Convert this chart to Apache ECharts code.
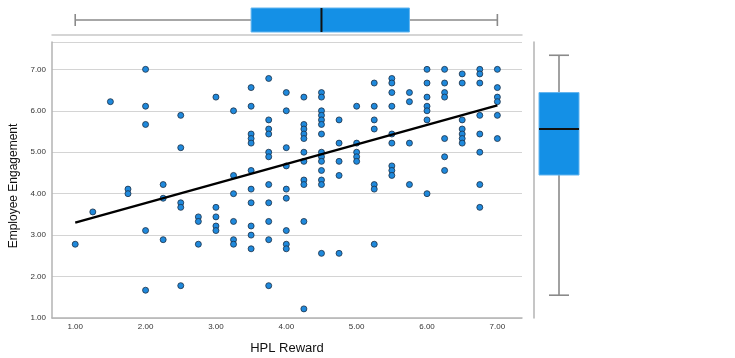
<!DOCTYPE html>
<html>
<head>
<meta charset="utf-8">
<script src="https://cdn.jsdelivr.net/npm/echarts@6/dist/echarts.min.js"></script>
<style>
  html, body { margin: 0; padding: 0; background: #ffffff; }
  #chart { width: 735px; height: 358px; }
</style>
</head>
<body>
<div id="chart"></div>
<script>
// Respondents: [HPL Reward, Employee Engagement]
const respondents = [
  [1.00, 2.78],
  [1.25, 3.56],
  [1.50, 6.22],
  [1.75, 4.11], [1.75, 4.00],
  [2.00, 7.00], [2.00, 6.11], [2.00, 5.67], [2.00, 3.11], [2.00, 1.67],
  [2.25, 4.22], [2.25, 3.89], [2.25, 2.89],
  [2.50, 5.89], [2.50, 5.11], [2.50, 3.78], [2.50, 3.67], [2.50, 1.78],
  [2.75, 3.44], [2.75, 3.33], [2.75, 2.78],
  [3.00, 6.33], [3.00, 3.67], [3.00, 3.44], [3.00, 3.22], [3.00, 3.11],
  [3.25, 6.00], [3.25, 4.44], [3.25, 4.00], [3.25, 3.33], [3.25, 2.89], [3.25, 2.78],
  [3.50, 6.56], [3.50, 6.11], [3.50, 5.44], [3.50, 5.33], [3.50, 5.22], [3.50, 4.56],
  [3.50, 4.11], [3.50, 3.78], [3.50, 3.22], [3.50, 3.00], [3.50, 2.67],
  [3.75, 6.78], [3.75, 5.78], [3.75, 5.56], [3.75, 5.44], [3.75, 5.00], [3.75, 4.89],
  [3.75, 4.22], [3.75, 3.78], [3.75, 3.33], [3.75, 2.89], [3.75, 1.78],
  [4.00, 6.44], [4.00, 6.00], [4.00, 5.11], [4.00, 4.67], [4.00, 4.11], [4.00, 3.89],
  [4.00, 3.11], [4.00, 2.78], [4.00, 2.67],
  [4.25, 6.33], [4.25, 5.67], [4.25, 5.56], [4.25, 5.44], [4.25, 5.33], [4.25, 5.00],
  [4.25, 4.78], [4.25, 4.33], [4.25, 4.22], [4.25, 3.33], [4.25, 1.22],
  [4.50, 6.44], [4.50, 6.33], [4.50, 6.00], [4.50, 5.89], [4.50, 5.78], [4.50, 5.67],
  [4.50, 5.44], [4.50, 5.00], [4.50, 4.89], [4.50, 4.78], [4.50, 4.56], [4.50, 4.33],
  [4.50, 4.22], [4.50, 2.56],
  [4.75, 5.78], [4.75, 5.22], [4.75, 4.78], [4.75, 4.44], [4.75, 2.56],
  [5.00, 6.11], [5.00, 5.22], [5.00, 5.00], [5.00, 4.89], [5.00, 4.78],
  [5.25, 6.67], [5.25, 6.11], [5.25, 5.78], [5.25, 5.56], [5.25, 4.22], [5.25, 4.11], [5.25, 2.78],
  [5.50, 6.78], [5.50, 6.67], [5.50, 6.44], [5.50, 6.11], [5.50, 5.44], [5.50, 5.22],
  [5.50, 4.67], [5.50, 4.56], [5.50, 4.44],
  [5.75, 6.44], [5.75, 6.22], [5.75, 5.22], [5.75, 4.22],
  [6.00, 7.00], [6.00, 6.67], [6.00, 6.33], [6.00, 6.11], [6.00, 6.00], [6.00, 5.78], [6.00, 4.00],
  [6.25, 7.00], [6.25, 6.67], [6.25, 6.44], [6.25, 6.33], [6.25, 5.33], [6.25, 4.89], [6.25, 4.56],
  [6.50, 6.89], [6.50, 6.67], [6.50, 5.78], [6.50, 5.56], [6.50, 5.44], [6.50, 5.33], [6.50, 5.22],
  [6.75, 7.00], [6.75, 6.89], [6.75, 6.67], [6.75, 5.89], [6.75, 5.44], [6.75, 5.00],
  [6.75, 4.22], [6.75, 3.67],
  [7.00, 7.00], [7.00, 6.56], [7.00, 6.33], [7.00, 6.22], [7.00, 5.89], [7.00, 5.33]
];

// Linear fit of engagement on reward, at the ends of the observed reward range
const fitLine = [[1.00, 3.30], [7.00, 6.13]];

// Five-number summaries: [min whisker, Q1, median, Q3, max whisker]
const rewardSummary = [1.00, 3.50, 4.50, 5.75, 7.00];
const engagementSummary = [1.55, 4.45, 5.56, 6.44, 7.34];

// Tick values shown on both axes
const tickValues = [1, 2, 3, 4, 5, 6, 7];

const FONT = '"Liberation Sans", Arial, sans-serif';
const BOX_FILL = '#1490e6';
const BOX_EDGE = '#63b5ef';
const WHISKER = '#8a8a8a';
const AXIS_GREY = '#b3b3b3';

// Draws a box-and-whisker glyph through the axis scales.
function boxGlyph(horizontal, boxPx, capPx) {
  return function (params, api) {
    const v = [api.value(0), api.value(1), api.value(2), api.value(3), api.value(4)];
    const pt = horizontal ? (val) => api.coord([val, 0.5]) : (val) => api.coord([0.5, val]);
    const p = v.map(pt);
    const hb = boxPx / 2, hc = capPx / 2;
    const seg = (a, b, style) => ({
      type: 'line',
      shape: { x1: a[0], y1: a[1], x2: b[0], y2: b[1] },
      style: style
    });
    const wStyle = { stroke: WHISKER, lineWidth: 1.6 };
    const cap = (c) => horizontal
      ? seg([c[0], c[1] - hc], [c[0], c[1] + hc], wStyle)
      : seg([c[0] - hc, c[1]], [c[0] + hc, c[1]], wStyle);
    const rect = horizontal
      ? { x: p[1][0], y: p[1][1] - hb, width: p[3][0] - p[1][0], height: boxPx }
      : { x: p[3][0] - hb, y: p[3][1], width: boxPx, height: p[1][1] - p[3][1] };
    const medStyle = { stroke: '#111111', lineWidth: 2 };
    const median = horizontal
      ? seg([p[2][0], p[2][1] - hb], [p[2][0], p[2][1] + hb], medStyle)
      : seg([p[2][0] - hb, p[2][1]], [p[2][0] + hb, p[2][1]], medStyle);
    return {
      type: 'group',
      children: [
        seg(p[0], p[1], wStyle),
        seg(p[3], p[4], wStyle),
        cap(p[0]),
        cap(p[4]),
        { type: 'rect', shape: rect, style: { fill: BOX_FILL, stroke: BOX_EDGE, lineWidth: 1 } },
        median
      ]
    };
  };
}

const xRange = { min: 0.67, max: 7.35 };
const yRange = { min: 1, max: 7.66 };

const chart = echarts.init(document.getElementById('chart'), null, { renderer: 'canvas' });

chart.setOption({
  animation: false,
  backgroundColor: '#ffffff',
  textStyle: { fontFamily: FONT },
  grid: [
    { left: 52, right: 213, top: 42, bottom: 40, outerBoundsMode: 'none' },   // scatter
    { left: 52, right: 213, top: 5, height: 30, outerBoundsMode: 'none' },    // reward box plot
    { left: 534, width: 50, top: 42, bottom: 40, outerBoundsMode: 'none' }    // engagement box plot
  ],
  xAxis: [
    {
      gridIndex: 0, type: 'value', min: xRange.min, max: xRange.max,
      name: 'HPL Reward', nameLocation: 'middle', nameGap: 24,
      nameTextStyle: { fontSize: 13, color: '#111111', fontFamily: FONT },
      axisLine: { show: true, lineStyle: { color: AXIS_GREY, width: 1.5 } },
      axisTick: { show: false },
      splitLine: { show: false },
      axisLabel: {
        customValues: tickValues, fontSize: 8, color: '#333333', margin: 5,
        formatter: (v) => v.toFixed(2)
      }
    },
    {
      gridIndex: 1, type: 'value', min: xRange.min, max: xRange.max,
      axisLine: { show: true, lineStyle: { color: '#c8c8c8', width: 1.5 } },
      axisTick: { show: false }, axisLabel: { show: false }, splitLine: { show: false }
    },
    {
      gridIndex: 2, type: 'value', min: 0, max: 1, show: false
    }
  ],
  yAxis: [
    {
      gridIndex: 0, type: 'value', min: yRange.min, max: yRange.max, interval: 1,
      name: 'Employee Engagement', nameLocation: 'middle', nameGap: 29,
      nameTextStyle: { fontSize: 12, color: '#111111', fontFamily: FONT, padding: [0, 12, 0, 0] },
      axisLine: { show: true, lineStyle: { color: AXIS_GREY, width: 1.5 } },
      axisTick: { show: false },
      splitLine: { show: true, lineStyle: { color: '#d4d4d4', width: 1.2 } },
      axisLabel: {
        fontSize: 8, color: '#333333', margin: 6,
        formatter: (v) => (v > 7.01 ? '' : v.toFixed(2))
      }
    },
    {
      gridIndex: 1, type: 'value', min: 0, max: 1, show: false
    },
    {
      gridIndex: 2, type: 'value', min: yRange.min, max: yRange.max,
      axisLine: { show: true, lineStyle: { color: AXIS_GREY, width: 1.5 } },
      axisTick: { show: false }, axisLabel: { show: false }, splitLine: { show: false }
    }
  ],
  series: [
    {
      type: 'scatter', xAxisIndex: 0, yAxisIndex: 0,
      data: respondents,
      symbolSize: 6,
      itemStyle: { color: '#1f89dc', borderColor: '#1c2e44', borderWidth: 0.8, opacity: 1 },
      z: 3
    },
    {
      type: 'line', xAxisIndex: 0, yAxisIndex: 0,
      data: fitLine, symbol: 'none',
      lineStyle: { color: '#000000', width: 2.4 },
      z: 4
    },
    {
      type: 'custom', xAxisIndex: 1, yAxisIndex: 1,
      renderItem: boxGlyph(true, 24, 12),
      data: [rewardSummary]
    },
    {
      type: 'custom', xAxisIndex: 2, yAxisIndex: 2,
      renderItem: boxGlyph(false, 40, 20),
      data: [engagementSummary]
    }
  ]
});
</script>
</body>
</html>
